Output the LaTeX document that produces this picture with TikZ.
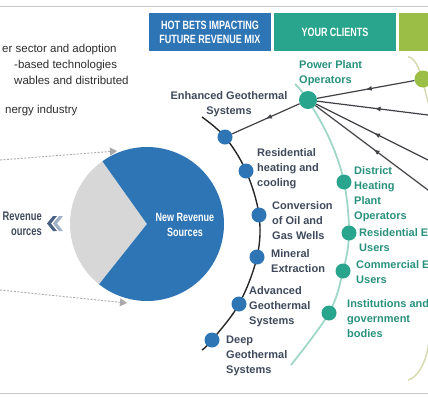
\documentclass[tikz,border=0pt]{standalone}
\usepackage{fontspec}
\setmainfont{Liberation Sans}
\newfontfamily\condfont[FakeStretch=0.75]{Liberation Sans}
\usetikzlibrary{arrows.meta, decorations.markings}

\definecolor{betblue}{RGB}{46,117,182}
\definecolor{clientteal}{RGB}{40,165,140}
\definecolor{paleteal}{RGB}{160,215,200}
\definecolor{olivegreen}{RGB}{155,190,70}
\definecolor{paleolive}{RGB}{215,218,175}
\definecolor{piegrey}{RGB}{215,215,215}
\definecolor{labelslate}{RGB}{62,74,92}
\definecolor{labelteal}{RGB}{40,145,125}
\definecolor{linegrey}{RGB}{65,65,70}
\definecolor{hintgrey}{RGB}{170,170,170}
\definecolor{rulegrey}{RGB}{200,200,200}
\definecolor{chevdark}{RGB}{75,98,130}
\definecolor{chevlight}{RGB}{160,178,200}
\definecolor{leftgrey}{RGB}{45,45,45}

\begin{document}
\begin{tikzpicture}[x=1pt, y=-1pt,
    headbox/.style={minimum width=122pt, minimum height=38pt, inner sep=0pt, align=center,
        text=white, font=\condfont\bfseries\fontsize{12}{14}\selectfont},
    betdot/.style={circle, fill=betblue, minimum size=15pt, inner sep=0pt},
    clientdot/.style={circle, fill=clientteal, minimum size=15pt, inner sep=0pt},
    betlabel/.style={anchor=north west, inner sep=0pt, align=left, text=labelslate,
        font=\bfseries\fontsize{11}{15}\selectfont},
    clientlabel/.style={betlabel, text=labelteal},
    lefttext/.style={anchor=north west, inner sep=0pt, text=leftgrey,
        font=\fontsize{11.5}{16}\selectfont},
    midarrow/.style={draw=linegrey, line width=1.2pt, postaction={decorate},
        decoration={markings, mark=at position #1 with {\arrow{Latex[length=6pt, width=5pt]}}}},
    midarrow/.default=0.5,
    hint/.style={draw=hintgrey, line width=0.9pt, dash pattern=on 2pt off 1.5pt,
        -{Triangle[length=7pt, width=8pt]}}
]
    \useasboundingbox (0,0) rectangle (428,400);
    \clip (0,0) rectangle (428,400);

    \draw[rulegrey, line width=0.8pt] (0,6) -- (428,6);
    \draw[rulegrey, line width=0.8pt] (0,393) -- (428,393);

    \node[lefttext] (lineone) at (2,43.5) {er sector and adoption};
    \node[lefttext] (linetwo) at (14,59.5) {-based technologies};
    \node[lefttext] (linethree) at (14,75.5) {wables and distributed};
    \node[lefttext] (linefour) at (5,104.5) {nergy industry};

    \node[headbox, fill=betblue] (headbets) at (210,32) {HOT BETS IMPACTING\\FUTURE REVENUE MIX};
    \node[headbox, fill=clientteal] (headclients) at (335,32) {YOUR CLIENTS};
    \node[headbox, fill=olivegreen] (headthird) at (460,32) {};

    \fill[piegrey] (147,224) -- ++(128.5:77) arc[start angle=128.5, end angle=234.6, radius=77] -- cycle;
    \fill[betblue] (147,224) -- ++(-125.4:77) arc[start angle=-125.4, end angle=128.5, radius=77] -- cycle;
    \node[align=center, text=white, inner sep=0pt, anchor=north,
        font=\condfont\bfseries\fontsize{12}{15}\selectfont] (newrev) at (185,213) {New Revenue\\Sources};

    \node[align=right, text=labelslate, inner sep=0pt, anchor=north east,
        font=\condfont\bfseries\fontsize{12.5}{14.5}\selectfont] (oldrev) at (42,212) {Revenue\\ources};
    \fill[chevdark] (53,216) -- (47,223.5) -- (53,231) -- (57,231) -- (51,223.5) -- (57,216) -- cycle;
    \fill[chevlight] (59,216) -- (53,223.5) -- (59,231) -- (63,231) -- (57,223.5) -- (63,216) -- cycle;

    \coordinate (hinttopstart) at (0,160);
    \coordinate (hinttopend) at (117,151);
    \coordinate (hintlowstart) at (0,290);
    \coordinate (hintlowend) at (127,303);
    \draw[hint] (hinttopstart) -- (hinttopend);
    \draw[hint] (hintlowstart) -- (hintlowend);

    \draw[paleteal, line width=1.8pt] plot[smooth, tension=0.6] coordinates
        {(295,84) (308,100) (330,140) (344,182) (349,233) (343,271) (329,313) (291,365)};
    \draw[paleolive, line width=1.5pt] plot[smooth, tension=0.6] coordinates
        {(408,57) (422,79) (445,200) (428,348) (408,380)};
    \draw[black!85, line width=1.4pt] plot[smooth, tension=0.6] coordinates
        {(202,117) (225,137) (246,171) (259,215) (257,257) (239,304) (212,340) (202,350)};

    \node[betdot] (egs) at (225,137) {};
    \node[betdot] (resheat) at (246,171) {};
    \node[betdot] (convwell) at (259,215) {};
    \node[betdot] (mineral) at (257,257) {};
    \node[betdot] (advgeo) at (239,304) {};
    \node[betdot] (deepgeo) at (212,340) {};

    \node[clientdot, minimum size=18pt] (ppo) at (308,100) {};
    \node[clientdot] (district) at (344,182) {};
    \node[clientdot] (resuser) at (349,233) {};
    \node[clientdot] (comuser) at (343,271) {};
    \node[clientdot] (institution) at (329,313) {};

    \node[circle, fill=olivegreen, minimum size=17pt, inner sep=0pt] (olivedot) at (423,79) {};

    \draw[midarrow] (ppo) -- (egs);
    \draw[midarrow] (olivedot) -- (ppo);
    \foreach \y [count=\i] in {115.5, 162, 193} {
        \coordinate (feed\i) at (432,\y);
        \draw[midarrow] (feed\i) -- (ppo);
    }

    \node[clientlabel] (ppolabel) at (299,60) {Power Plant\\Operators};
    \node[betlabel, anchor=north, align=center] (egslabel) at (229,91) {Enhanced Geothermal\\Systems};
    \node[betlabel] (resheatlabel) at (257,148) {Residential\\heating and\\cooling};
    \node[betlabel] (convwelllabel) at (272,201) {Conversion\\of Oil and\\Gas Wells};
    \node[betlabel] (minerallabel) at (271,249) {Mineral\\Extraction};
    \node[betlabel] (advgeolabel) at (249,286) {Advanced\\Geothermal\\Systems};
    \node[betlabel] (deepgeolabel) at (226,336) {Deep\\Geothermal\\Systems};

    \node[clientlabel] (districtlabel) at (354,166) {District\\Heating\\Plant\\Operators};
    \node[clientlabel] (resuserlabel) at (359,228) {Residential E\\Users};
    \node[clientlabel] (comuserlabel) at (356,260) {Commercial E\\Users};
    \node[clientlabel] (institutionlabel) at (347,299) {Institutions and\\government\\bodies};
\end{tikzpicture}
\end{document}
